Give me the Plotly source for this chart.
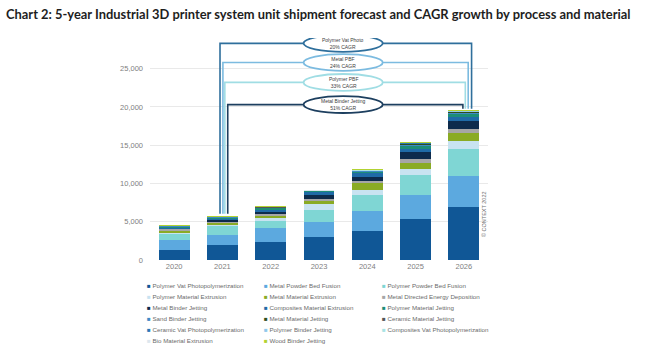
import plotly.graph_objects as go

years = ["2020", "2021", "2022", "2023", "2024", "2025", "2026"]

series_names = [
    "Polymer Vat Photopolymerization", "Metal Powder Bed Fusion", "Polymer Powder Bed Fusion",
    "Polymer Material Extrusion", "Metal Material Extrusion", "Metal Directed Energy Deposition",
    "Metal Binder Jetting", "Composites Material Extrusion", "Polymer Material Jetting",
    "Sand Binder Jetting", "Metal Material Jetting", "Ceramic Material Jetting",
    "Ceramic Vat Photopolymerization", "Polymer Binder Jetting", "Composites Vat Photopolymerization",
    "Bio Material Extrusion", "Wood Binder Jetting",
]

polymer_vat_photo = [1350, 2000, 2400, 3000, 3800, 5350, 6900]
metal_pbf = [1200, 1300, 1750, 2000, 2650, 3100, 4100]
polymer_pbf = [900, 1100, 1000, 1550, 2000, 2700, 3550]
polymer_mat_ext = [200, 300, 450, 750, 750, 800, 1000]
metal_mat_ext = [250, 200, 200, 500, 800, 750, 1100]
metal_ded = [150, 150, 150, 200, 300, 450, 450]
metal_binder_jet = [80, 200, 320, 550, 570, 1000, 1100]
composites_mat_ext = [150, 200, 300, 350, 450, 400, 450]
polymer_mat_jet = [150, 150, 250, 150, 300, 450, 550]
sand_binder_jet = [20, 40, 60, 30, 60, 120, 100]
metal_mat_jet = [5, 20, 30, 10, 30, 80, 80]
ceramic_mat_jet = [5, 10, 20, 5, 20, 50, 40]
ceramic_vat_photo = [5, 10, 15, 5, 15, 40, 30]
polymer_binder_jet = [3, 8, 10, 5, 10, 30, 20]
composites_vat_photo = [2, 5, 8, 3, 8, 15, 15]
bio_mat_ext = [2, 5, 5, 3, 5, 10, 10]
wood_binder_jet = [1, 2, 2, 1, 2, 5, 5]

series_values = [
    polymer_vat_photo, metal_pbf, polymer_pbf, polymer_mat_ext, metal_mat_ext, metal_ded,
    metal_binder_jet, composites_mat_ext, polymer_mat_jet, sand_binder_jet, metal_mat_jet,
    ceramic_mat_jet, ceramic_vat_photo, polymer_binder_jet, composites_vat_photo,
    bio_mat_ext, wood_binder_jet,
]

series_colors = [
    "#105796", "#5ca9df", "#7fd6d4",
    "#c8e3f1", "#8aab24", "#a6a6a6",
    "#0d2b4c", "#1f6ba7", "#1c8d78",
    "#3f8ac6", "#2f4f1d", "#565656",
    "#2a78b6", "#90c9ec", "#a9e3e3",
    "#dde7ee", "#b2d232",
]

y_ticks = [0, 5000, 10000, 15000, 20000, 25000]
y_tick_labels = ["0", "5,000", "10,000", "15,000", "20,000", "25,000"]

cagr_labels = ["Polymer Vat Photo<br>20% CAGR", "Metal PBF<br>24% CAGR",
               "Polymer PBF<br>33% CAGR", "Metal Binder Jetting<br>51% CAGR"]
cagr_levels = [28300, 25800, 23200, 20300]
cagr_colors = ["#2f6f9c", "#7cbbe0", "#a0dde4", "#1d3f5f"]
left_offsets = [-0.05, 0.01, 0.05, 0.11]
right_offsets = [0.16, 0.09, 0.03, -0.02]

x_idx = list(range(len(years)))
totals = [sum(s[i] for s in series_values) for i in x_idx]

fig = go.Figure()
for name, vals, col in zip(series_names, series_values, series_colors):
    fig.add_trace(go.Bar(x=x_idx, y=vals, name=name, marker=dict(color=col, line=dict(width=0)),
                         width=0.64, showlegend=False))

fig.update_layout(
    barmode="stack",
    width=650, height=358,
    margin=dict(l=150, r=162, t=38, b=98),
    paper_bgcolor="white", plot_bgcolor="white",
    font=dict(family="Liberation Sans, Arial, sans-serif", color="#7f7f7f"),
    title=dict(text="<b>Chart 2: 5-year Industrial 3D printer system unit shipment forecast and CAGR growth by process and material</b>",
               x=6/650, xref="container", xanchor="left", y=1-14/358, yref="container", yanchor="middle",
               font=dict(family="Lato, sans-serif", size=12.9, color="#1e1e1e")),
    xaxis=dict(range=[-0.5, 6.5], tickvals=x_idx, ticktext=years, showgrid=False, zeroline=False,
               showline=False, ticks="", tickfont=dict(size=7.5, color="#808080")),
    yaxis=dict(range=[0, 29000], tickvals=y_ticks, ticktext=y_tick_labels, showgrid=True,
               gridcolor="#e9e9e9", gridwidth=1, zeroline=False, showline=False, ticks="",
               tickfont=dict(size=7.5, color="#808080"), ticklabelstandoff=6),
)

# CAGR brackets
left_x = x_idx[1]
right_x = x_idx[6]
ell_x0, ell_x1 = 2.68, 4.32
for lab, lvl, col, lo, ro in zip(cagr_labels, cagr_levels, cagr_colors, left_offsets, right_offsets):
    path = (f"M {left_x + lo},{totals[1] + 350} L {left_x + lo},{lvl} L {right_x + ro},{lvl} "
            f"L {right_x + ro},{totals[6] + 250}")
    fig.add_shape(type="path", path=path, line=dict(color=col, width=1.6), xref="x", yref="y")
for lab, lvl, col in zip(cagr_labels, cagr_levels, cagr_colors):
    fig.add_shape(type="circle", x0=ell_x0, x1=ell_x1, y0=lvl - 1100, y1=lvl + 1100,
                  line=dict(color=col, width=1.8), fillcolor="white", xref="x", yref="y")
    fig.add_annotation(x=(ell_x0 + ell_x1) / 2, y=lvl, text=lab, showarrow=False,
                       font=dict(size=5, color="#404040"), xref="x", yref="y")

# watermark
fig.add_annotation(x=(489 - 150) / 338, y=(260 - 239) / 222, xref="paper", yref="paper",
                   text="© CONTEXT 2022", textangle=-90, showarrow=False,
                   font=dict(size=5.5, color="#707070"))

# legend (3 columns, row-major)
col_px = [145, 262, 380]
for i, (name, col) in enumerate(zip(series_names, series_colors)):
    c, r = i % 3, i // 3
    px = col_px[c]
    py = 285.7 + r * 10.9
    fig.add_annotation(x=(px - 150) / 338, y=(260 - py) / 222, xref="paper", yref="paper",
                       xanchor="left", yanchor="middle", showarrow=False,
                       text=f"<span style='color:{col}'>■</span> {name}",
                       font=dict(size=6.2, color="#6b6b6b"))

fig.write_html("out.html", config={"displayModeBar": False},
               post_script="document.body.style.margin='0';")
